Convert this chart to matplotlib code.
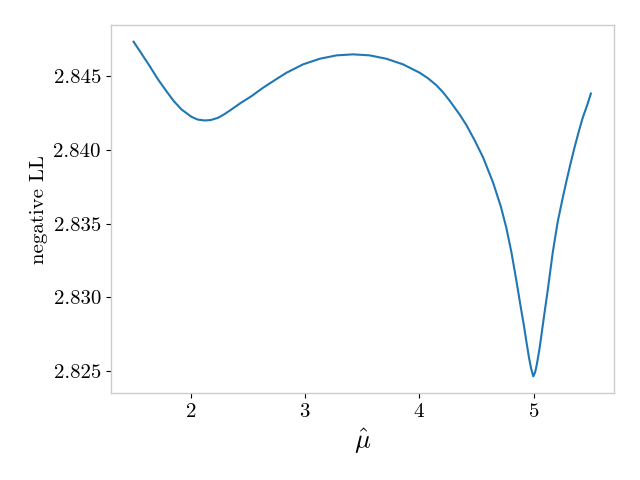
import matplotlib
matplotlib.use("Agg")
import matplotlib.pyplot as plt

# values
mu_hat = [1.50, 1.571, 1.641, 1.711, 1.787, 1.851, 1.919, 2.006, 2.061, 2.122,
          2.175, 2.239, 2.297, 2.356, 2.437, 2.531, 2.630, 2.735, 2.837, 2.982,
          3.128, 3.274, 3.420, 3.566, 3.712, 3.857, 4.003, 4.076, 4.149, 4.207,
          4.265, 4.353, 4.411, 4.484, 4.557, 4.644, 4.711, 4.761, 4.805, 4.849,
          4.886, 4.913, 4.939, 4.959, 4.978, 4.996, 5.013, 5.029, 5.053, 5.088,
          5.123, 5.166, 5.210, 5.254, 5.289, 5.324, 5.359, 5.394, 5.429, 5.468,
          5.50]
neg_ll = [2.84736, 2.84653, 2.84570, 2.84483, 2.84400, 2.84333, 2.84276, 2.84226, 2.84207, 2.84201,
          2.84204, 2.84219, 2.84245, 2.84276, 2.84320, 2.84366, 2.84422, 2.84475, 2.84525, 2.84582,
          2.84620, 2.84643, 2.84650, 2.84643, 2.84620, 2.84582, 2.84525, 2.84487, 2.84440, 2.84392,
          2.84335, 2.84240, 2.84170, 2.84065, 2.83950, 2.83780, 2.83620, 2.83470, 2.83305, 2.83110,
          2.82935, 2.82813, 2.82684, 2.82588, 2.82514, 2.82463, 2.82493, 2.82552, 2.82663, 2.82860,
          2.83051, 2.83303, 2.83514, 2.83677, 2.83799, 2.83915, 2.84024, 2.84126, 2.84221, 2.84306,
          2.84384]

plt.rcParams['font.family'] = 'serif'
plt.rcParams['font.serif'] = ['cmr10']
plt.rcParams['mathtext.fontset'] = 'cm'
plt.rcParams['axes.formatter.use_mathtext'] = True

fig, ax = plt.subplots(figsize=(6.4, 4.8), dpi=100)
fig.subplots_adjust(left=0.173, right=0.959, top=0.948, bottom=0.181)

ax.plot(mu_hat, neg_ll, color='#1f77b4', linewidth=1.5)

for s in ax.spines.values():
    s.set_color('#cccccc')
    s.set_linewidth(1.0)
ax.tick_params(axis='both', labelsize=15, length=3.5, width=0.8, color='black')
ax.set_xticks([2, 3, 4, 5])
ax.set_yticks([2.825, 2.830, 2.835, 2.840, 2.845])
ax.set_yticklabels(['2.825', '2.830', '2.835', '2.840', '2.845'])

ax.set_xlabel(r'$\hat{\mu}$', fontsize=19)
ax.set_ylabel('negative LL', fontsize=15)

fig.savefig('out.png')
